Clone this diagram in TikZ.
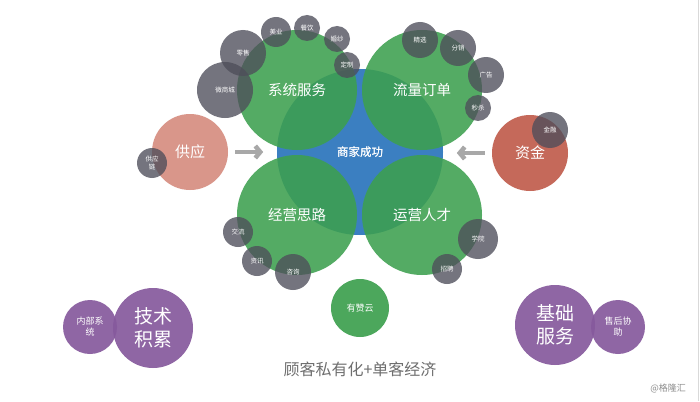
\documentclass[tikz,border=0pt]{standalone}
\usepackage{fontspec}
\setmainfont{Noto Sans CJK SC}
\usetikzlibrary{arrows.meta}
\definecolor{bluebase}{HTML}{3B7FC1}
\definecolor{greenbase}{HTML}{3DA04F}
\definecolor{greybase}{HTML}{4E4E5A}
\definecolor{pinkbase}{HTML}{D9968A}
\definecolor{redbase}{HTML}{C5695A}
\definecolor{purplebase}{HTML}{86599D}
\definecolor{arrowgrey}{HTML}{A8A8A8}
\definecolor{captiongrey}{HTML}{6E6E6E}
\tikzset{
  bubble/.style    = {circle, inner sep=0pt, text=white, align=center, text opacity=1},
  core/.style      = {bubble, fill=bluebase, minimum size=166pt, font=\fontsize{11.5}{13}\selectfont},
  pillar/.style    = {bubble, fill=greenbase, fill opacity=0.88, minimum size=120pt, font=\fontsize{14.5}{16}\selectfont},
  tag/.style       = {bubble, fill=greybase, fill opacity=0.78, font=\fontsize{6.5}{7.5}\selectfont},
  side/.style      = {bubble, minimum size=76pt, font=\fontsize{15}{17}\selectfont},
  purplebig/.style = {bubble, fill=purplebase, fill opacity=0.92, minimum size=80pt, font=\fontsize{19}{23}\selectfont},
  purplesub/.style = {bubble, fill=purplebase, fill opacity=0.92, minimum size=54pt, font=\fontsize{9}{11}\selectfont},
  feed/.style      = {draw=arrowgrey, line width=4.5pt, -{Straight Barb[length=5pt,width=12pt]}}
}

\begin{document}
\begin{tikzpicture}[x=1pt, y=-1pt]
  \useasboundingbox (0,0) rectangle (700,401);
  \fill[white] (0,0) rectangle (700,401);
  \draw[black!15, line width=0.8pt] (698,0) -- (698,401);

  % Core and four pillars
  \node[core] (shangjia) at (360,152) {商家成功};
  \node[pillar] (xitong)  at (297, 90) {系统服务};
  \node[pillar] (liuliang) at (422, 90) {流量订单};
  \node[pillar] (jingying) at (297,215) {经营思路};
  \node[pillar] (yunying)  at (422,215) {运营人才};
  \node[core, fill=none] at (360,152) {商家成功};

  % Tags round the pillars
  \node[tag, minimum size=56pt] (weishang) at (225, 90) {微商城};
  \node[tag, minimum size=46pt] (lingshou) at (243, 53) {零售};
  \node[tag, minimum size=30pt] (meiye)    at (276, 32) {美业};
  \node[tag, minimum size=26pt] (canyin)   at (307, 28) {餐饮};
  \node[tag, minimum size=26pt] (hunsha)   at (337, 39) {婚纱};
  \node[tag, minimum size=26pt] (dingzhi)  at (347, 65) {定制};

  \node[tag, minimum size=36pt] (jingxuan) at (420, 40) {精选};
  \node[tag, minimum size=36pt] (fenxiao)  at (458, 48) {分销};
  \node[tag, minimum size=36pt] (guanggao) at (486, 75) {广告};
  \node[tag, minimum size=26pt] (miaosha)  at (478,108) {秒杀};

  \node[tag, minimum size=30pt] (jiaoliu) at (238,232) {交流};
  \node[tag, minimum size=30pt] (zixun)   at (257,261) {资讯};
  \node[tag, minimum size=36pt] (zixun2)  at (293,272) {咨询};

  \node[tag, minimum size=40pt] (xueyuan)  at (478,239) {学院};
  \node[tag, minimum size=30pt] (zhaopin)  at (447,269) {招聘};

  % Supply and funding
  \node[side, fill=pinkbase] (gongying) at (190,152) {供应};
  \node[side, fill=redbase]  (zijin)    at (530,153) {资金};
  \node[tag, minimum size=30pt] (gongyinglian) at (152,163) {供应\\链};
  \node[tag, minimum size=36pt] (jinrong)      at (550,130) {金融};

  \draw[feed] (gongying.east) ++(7,0) -- ++(28,0);
  \draw[feed] (zijin.west) ++(-7,0) -- ++(-28,0);

  % Cloud
  \node[bubble, fill=greenbase, fill opacity=0.92, minimum size=58pt, font=\fontsize{9}{11}\selectfont] (youzan) at (360,308) {有赞云};

  % Purple groups
  \node[purplebig] (jishu)    at (153,328) {技术\\积累};
  \node[purplesub] (neibu)    at ( 90,327) {内部系\\统};
  \node[purplebig] (jichu)    at (555,325) {基础\\服务};
  \node[purplesub] (shouhou)  at (618,327) {售后协\\助};

  % Caption
  \node[text=captiongrey, font=\fontsize{16}{18}\selectfont] (caption) at (360,369) {顾客私有化+单客经济};
  \node[text=black!45, font=\fontsize{9}{11}\selectfont] (mark) at (668,388) {@格隆汇};
\end{tikzpicture}
\end{document}
